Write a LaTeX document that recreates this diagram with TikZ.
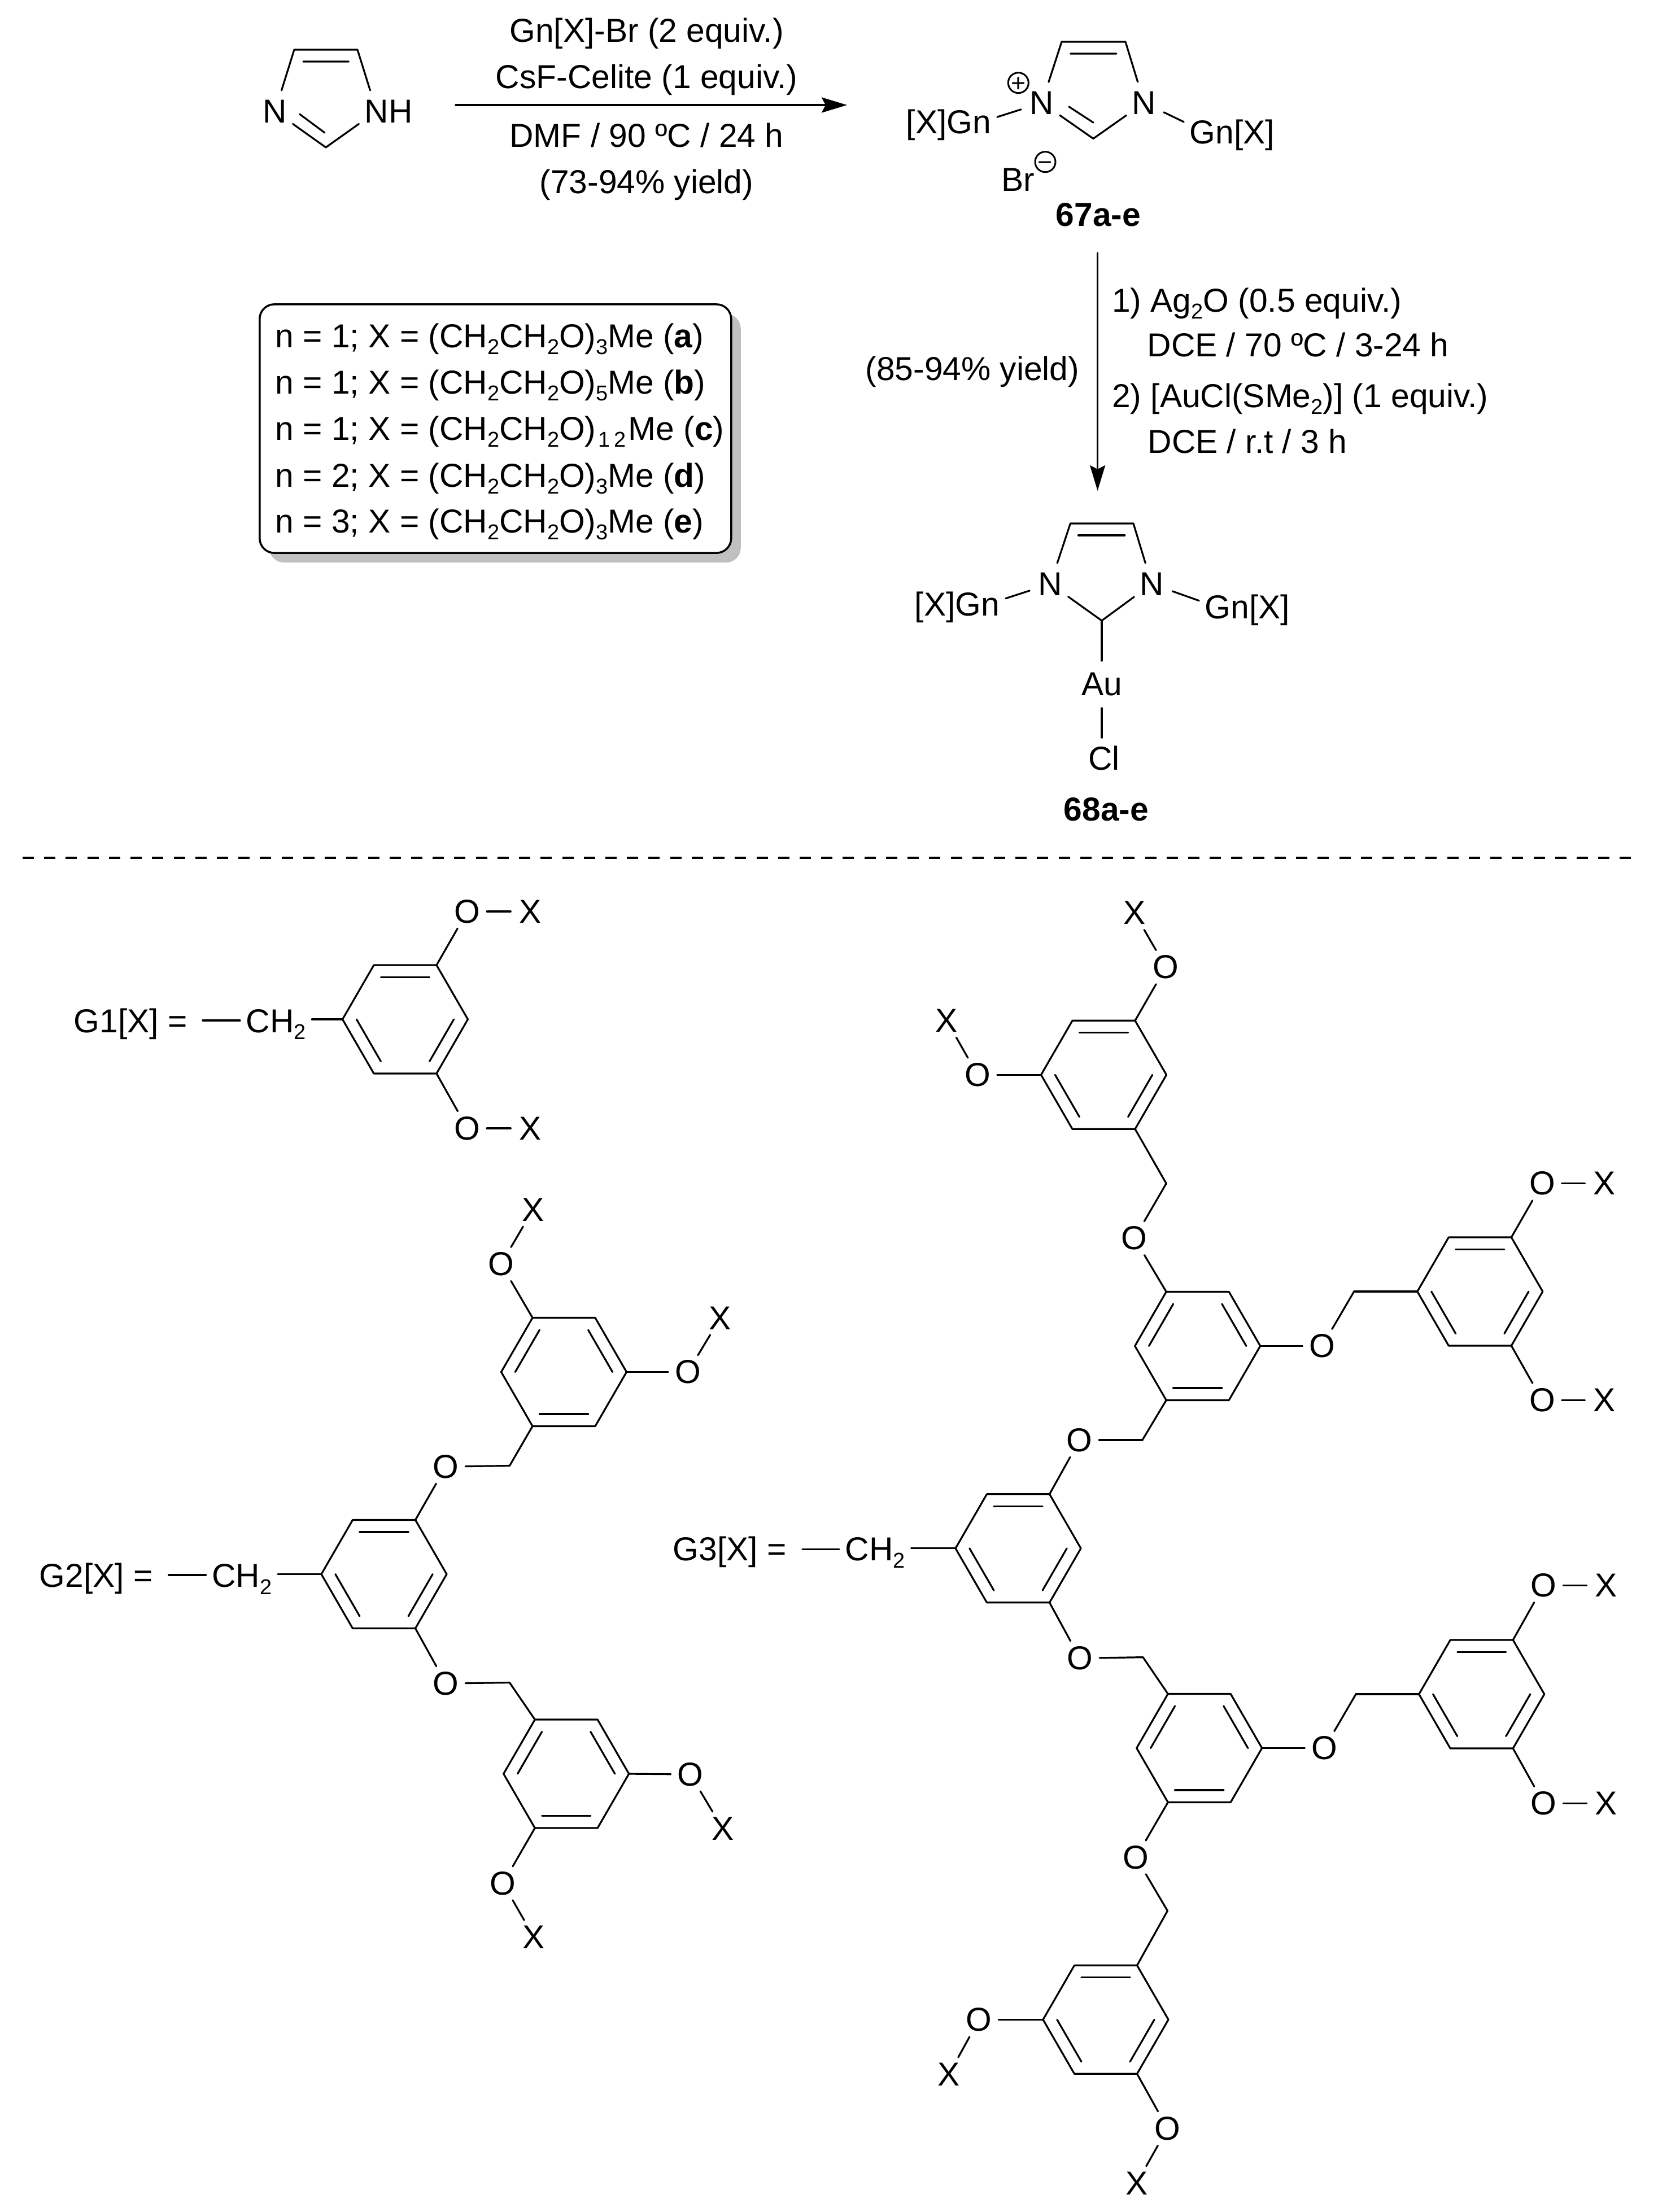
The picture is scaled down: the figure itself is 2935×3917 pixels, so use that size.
\documentclass[tikz,border=0pt]{standalone}
\usepackage{fontspec}
\setmainfont{Liberation Sans}
\usetikzlibrary{arrows.meta,calc,shadows}
\definecolor{boxshadow}{RGB}{192,192,192}
\newcommand{\subs}[1]{\raisebox{-.22em}{\fontsize{10.8}{12}\selectfont #1}}
\newcommand{\chgsign}[1]{\smash{\raisebox{-.352em}{#1}}}
\begin{document}
\begin{tikzpicture}[x=.01cm,y=-.01cm,line join=round,line cap=round,>={Stealth[length=.45cm,width=.27cm,inset=.07cm]}]
    \tikzset{txt/.style={inner sep=0pt,font=\fontsize{16.7}{20}\selectfont}}
    \tikzset{sub/.style={txt,inner xsep=.1cm}}
    \tikzset{atom/.style={txt,circle,minimum size=.68cm}}
    \tikzset{natom/.style={atom,minimum size=.76cm}}
    \tikzset{bond/.style={line width=.032cm}}
    \tikzset{reaction/.style={line width=.035cm,->}}
    \tikzset{chg/.style={circle,draw,line width=.03cm,minimum size=.36cm,inner sep=0pt,font=\fontsize{12.7}{14}\selectfont}}
    \useasboundingbox (0,0) rectangle (2935,3917);
    \def \hexx{55.5}
    \def \hexy{96}
    \def \hexr{111}
    \def \inner{.776}
    \node[txt,anchor=base] (rxa) at (1145,74) {Gn[X]-Br (2 equiv.)};
    \node[txt,anchor=base] (rxb) at (1145,156) {CsF-Celite (1 equiv.)};
    \node[txt,anchor=base] (rxc) at (1145,260) {DMF / 90 ºC / 24 h};
    \node[txt,anchor=base] (rxd) at (1145,342) {(73-94\% yield)};
    \coordinate (arra) at (807,186);
    \coordinate (arrb) at (1500,186);
    \draw[reaction] (arra) -- (arrb);
    \coordinate (arrc) at (1943.6,448);
    \coordinate (arrd) at (1943.6,869);
    \draw[reaction] (arrc) -- (arrd);
    \node[txt,anchor=base] (ryd) at (1722,673) {(85-94\% yield)};
    \node[txt,anchor=base west] (rya) at (1968.5,552) {1) Ag\subs{2}O (0.5 equiv.)};
    \node[txt,anchor=base west] (ryb) at (2031,631) {DCE / 70 ºC / 3-24 h};
    \node[txt,anchor=base west] (ryc) at (1968.5,721) {2) [AuCl(SMe\subs{2})] (1 equiv.)};
    \node[txt,anchor=base west] (rye) at (2032,802) {DCE / r.t / 3 h};
    \node[natom] (imna) at (487,197) {N};
    \node[natom] (imnb) at (667,197) {N\rlap{H}};
    \coordinate (imca) at (521,88);
    \coordinate (imcb) at (633,88);
    \coordinate (imcc) at (577,261);
    \draw[bond] (imna) -- (imca) -- (imcb) -- (imnb) -- (imcc) -- (imna);
    \draw[bond] (537,109) -- (617.5,109) (530.5,202) -- (575,235);
    \node[natom] (cana) at (1845,182) {N};
    \node[natom] (canb) at (2026,182) {N};
    \coordinate (caca) at (1880,74);
    \coordinate (cacb) at (1993,74);
    \coordinate (cacc) at (1936,245.5);
    \draw[bond] (cana) -- (caca) -- (cacb) -- (canb) -- (cacc) -- (cana);
    \draw[bond] (1895.5,95) -- (1977,95) (1893,189) -- (1936,217);
    \node[sub,anchor=base] (cagl) at (1680,236) {[X]Gn};
    \node[sub,anchor=base] (cagr) at (2182,254) {Gn[X]};
    \draw[bond] (cagl.9) -- (cana);
    \draw[bond] (canb) -- (cagr.165);
    \node[chg] (plus) at (1803.3,146.7) {\chgsign{+}};
    \node[txt,anchor=base] (brion) at (1803,338) {Br};
    \node[chg] (minus) at (1851,286.7) {\chgsign{−}};
    \node[txt,anchor=base] (cmpa) at (1945,400) {\textbf{67a-e}};
    \node[natom] (auna) at (1860,1034) {N};
    \node[natom] (aunb) at (2039.5,1034) {N};
    \coordinate (auca) at (1895.4,927);
    \coordinate (aucb) at (2007,927);
    \coordinate (aucc) at (1951,1099);
    \draw[bond] (auna) -- (auca) -- (aucb) -- (aunb) -- (aucc) -- (auna);
    \draw[bond] (1909.4,948) -- (1991.7,948);
    \node[sub,anchor=base] (augl) at (1695,1090) {[X]Gn};
    \node[sub,anchor=base] (augr) at (2209,1095.5) {Gn[X]};
    \draw[bond] (augl.10) -- (auna);
    \draw[bond] (aunb) -- (augr.169);
    \node[atom] (aum) at (1951,1212) {Au};
    \node[atom] (aucl) at (1955,1342) {Cl};
    \draw[bond] (aucc) -- (aum);
    \draw[bond] (aum.south) -- (aum.south |- aucl.north);
    \node[txt,anchor=base] (cmpb) at (1959,1453.5) {\textbf{68a-e}};
    \node[draw,fill=white,line width=.035cm,rounded corners=.26cm,minimum width=8.345cm,minimum height=4.4cm,drop shadow={shadow xshift=.17cm,shadow yshift=-.17cm,fill=boxshadow,opacity=1}] (legend) at (877.25,759) {};
    \foreach \yy/\nn/\sb/\lt in {615/1/3/a,697/1/5/b,779/1/{\kern.1em1\kern.2em2\kern.1em}/c,862/2/3/d,943/3/3/e}
        \node[txt,anchor=base west] (leg\lt) at (487,\yy) {n = \nn; X = (CH\subs{2}CH\subs{2}O)\subs{\sb}Me (\textbf{\lt})};
    \coordinate (sepa) at (40,1519.3);
    \coordinate (sepb) at (2888,1519.3);
    \draw[line width=.037cm,line cap=butt,dash pattern=on .2cm off .182cm] (sepa) -- (sepb);
    \foreach \rname/\cx/\cy/\kind in {g1r/717.5/1805/0,g2c/680/2787.5/0,g2u/998.5/2429.5/1,g2d/1002.7/3141/1,g3c/1803/2741.8/0,g3ma/2120.7/2383.4/1,g3t/1954.5/1903.3/0,g3ra/2620.8/2287/0,g3mb/2123.7/3095.5/1,g3rb/2623.7/3000/0,g3b/1958/3576.3/0}{
        \coordinate (\rname) at (\cx,\cy);
        \coordinate (\rname-tl) at (\cx-\hexx,\cy-\hexy);
        \coordinate (\rname-tr) at (\cx+\hexx,\cy-\hexy);
        \coordinate (\rname-r) at (\cx+\hexr,\cy);
        \coordinate (\rname-br) at (\cx+\hexx,\cy+\hexy);
        \coordinate (\rname-bl) at (\cx-\hexx,\cy+\hexy);
        \coordinate (\rname-l) at (\cx-\hexr,\cy);
        \draw[bond] (\rname-tl) -- (\rname-tr) -- (\rname-r) -- (\rname-br) -- (\rname-bl) -- (\rname-l) -- cycle;
        \ifnum\kind=0 \def\pairs{tl/tr,r/br,bl/l}\else \def\pairs{tr/r,br/bl,l/tl}\fi
        \foreach \pa/\pb in \pairs
            \draw[bond] ($(\rname)!\inner!(\rname-\pa)$) -- ($(\rname)!\inner!(\rname-\pb)$);
    }
    \foreach \aname/\ax/\ay in {g1oa/827.5/1614,g1ob/827.5/1998,g2oa/789.6/2597,g2ob/789.6/2981,g2oc/887.4/2238.4,g2od/1218/2429.5,g2oe/1222.4/3142,g2of/890.7/3334.8,g3oa/2008.8/2192.7,g3ob/2341.3/2383.4,g3oc/1911.8/2550,g3od/1912.3/2936.4,g3oe/2345.3/3095.5,g3of/2011.6/3289,g3og/2064.4/1712.6,g3oh/1731/1903.3,g3oi/2731/2095.7,g3oj/2731/2479.6,g3ok/2733.7/2807.3,g3ol/2733.7/3193.7,g3om/1733.7/3576.3,g3on/2067.4/3769}
        \node[atom] (\aname) at (\ax,\ay) {O};
    \foreach \aname/\ax/\ay in {g1xa/939/1614,g1xb/939/1998,g2xc/943.8/2142,g2xd/1275.5/2334,g2xe/1279.6/3238,g2xf/945.5/3430.4,g3xg/2008.8/1616.4,g3xh/1676.3/1807,g3xi/2841.3/2095.7,g3xj/2841.3/2479.6,g3xk/2844.2/2807.3,g3xl/2844.2/3193.7,g3xm/1680/3673.5,g3xn/2012.7/3866}
        \node[atom] (\aname) at (\ax,\ay) {X};
    \foreach \aname/\ax/\ay in {g2mu/902.4/2595.5,g2md/902.4/2979.5,g3mt/2065.2/2095.7,g3mr/2397.7/2287,g3mc/2022.9/2550,g3md/2024/2934.6,g3me/2401/3000,g3mf/2067.4/3383.6}
        \coordinate (\aname) at (\ax,\ay);
    \foreach \pa/\pb in {g1r-tr/g1oa,g1oa/g1xa,g1r-br/g1ob,g1ob/g1xb,g2c-tr/g2oa,g2oa/g2mu,g2mu/g2u-bl,g2c-br/g2ob,g2ob/g2md,g2md/g2d-tl,g2u-tl/g2oc,g2oc/g2xc,g2u-r/g2od,g2od/g2xd,g2d-r/g2oe,g2oe/g2xe,g2d-bl/g2of,g2of/g2xf,g3t-br/g3mt,g3mt/g3oa,g3oa/g3ma-tl,g3ma-r/g3ob,g3ob/g3mr,g3mr/g3ra-l,g3ma-bl/g3mc,g3mc/g3oc,g3oc/g3c-tr,g3c-br/g3od,g3od/g3md,g3md/g3mb-tl,g3mb-r/g3oe,g3oe/g3me,g3me/g3rb-l,g3mb-bl/g3of,g3of/g3mf,g3mf/g3b-tr,g3t-tr/g3og,g3og/g3xg,g3t-l/g3oh,g3oh/g3xh,g3ra-tr/g3oi,g3oi/g3xi,g3ra-br/g3oj,g3oj/g3xj,g3rb-tr/g3ok,g3ok/g3xk,g3rb-br/g3ol,g3ol/g3xl,g3b-l/g3om,g3om/g3xm,g3b-br/g3on,g3on/g3xn}
        \draw[bond] (\pa) -- (\pb);
    \node[txt,anchor=base west] (gena) at (130,1828) {G1[X] =};
    \node[sub,anchor=base west] (cha) at (425,1828) {CH\subs{2}};
    \coordinate (fra) at (359,1807);
    \draw[bond] (fra) -- (fra -| cha.west);
    \draw[bond] (cha.east |- g1r-l) -- (g1r-l);
    \node[txt,anchor=base west] (genb) at (69,2810.5) {G2[X] =};
    \node[sub,anchor=base west] (chb) at (364.5,2810.5) {CH\subs{2}};
    \coordinate (frb) at (298.7,2789);
    \draw[bond] (frb) -- (frb -| chb.west);
    \draw[bond] (chb.east |- g2c-l) -- (g2c-l);
    \node[txt,anchor=base west] (genc) at (1191,2763.4) {G3[X] =};
    \node[sub,anchor=base west] (chc) at (1486,2763.4) {CH\subs{2}};
    \coordinate (frc) at (1421,2743.7);
    \draw[bond] (frc) -- (frc -| chc.west);
    \draw[bond] (chc.east |- g3c-l) -- (g3c-l);
\end{tikzpicture}
\end{document}
